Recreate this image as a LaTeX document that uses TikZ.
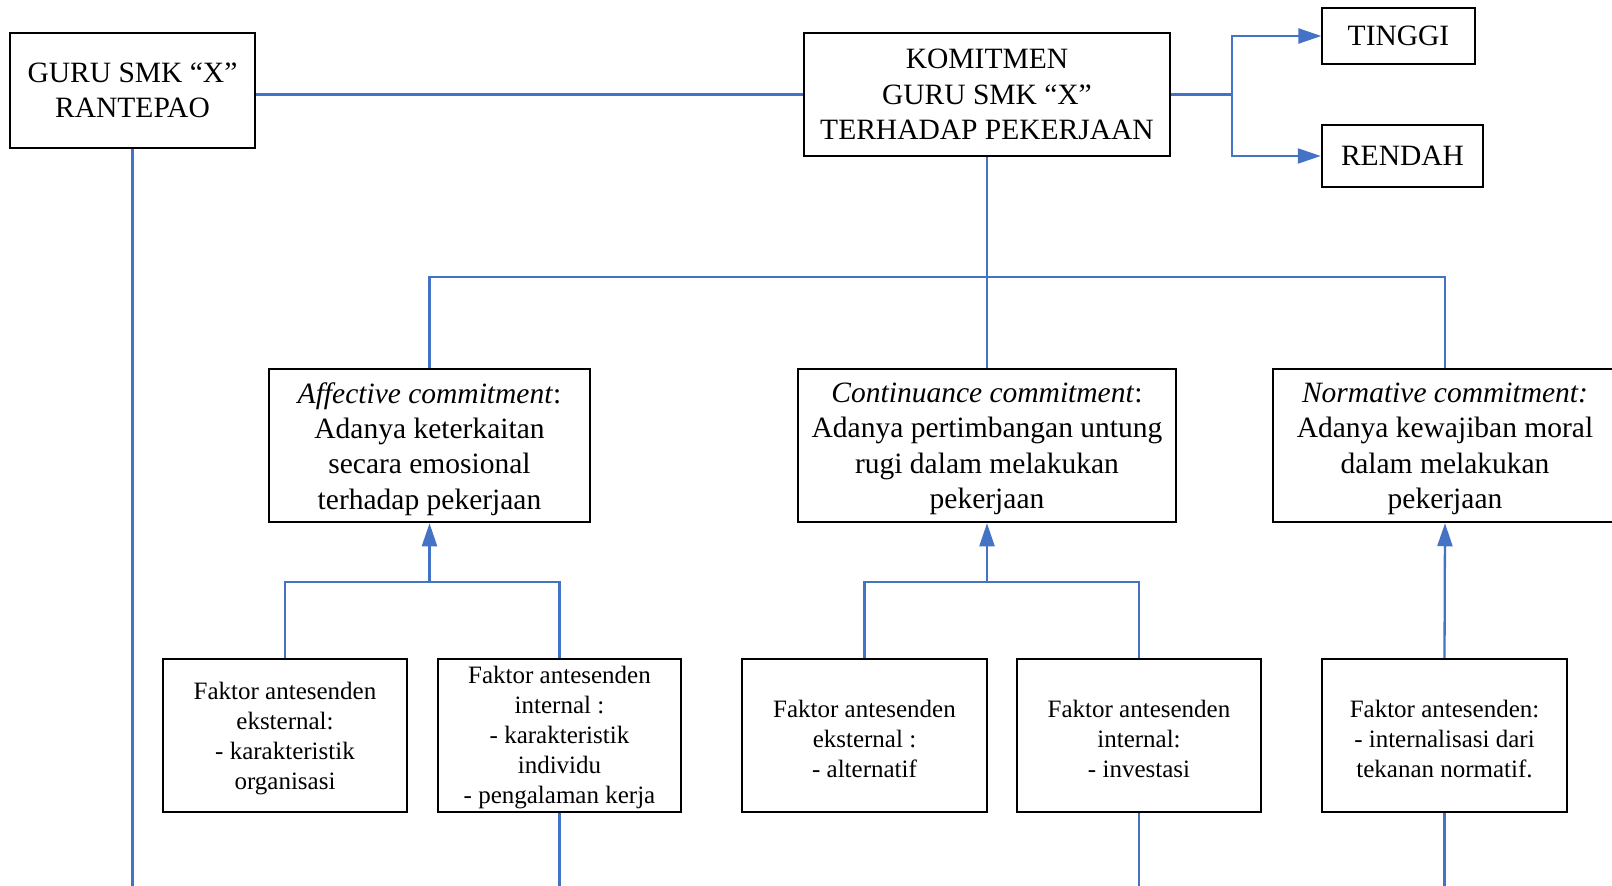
\documentclass[tikz,border=0pt]{standalone}
\usepackage{fontspec}
\setmainfont{Liberation Serif}
\usetikzlibrary{arrows.meta}
\definecolor{lineblue}{HTML}{4472C4}
\tikzset{
  sz/.style 2 args={minimum width=#1pt, minimum height=#2pt},
  box/.style={draw=black, line width=2.5pt, inner sep=0pt, align=center, font=\fontsize{29.5}{35.5}\selectfont},
  thinbox/.style={box, line width=1.3pt},
  midtext/.style={inner sep=0pt, align=center, font=\fontsize{29.5}{35.3}\selectfont},
  smalltext/.style={inner sep=0pt, align=center, font=\fontsize{25}{30}\selectfont},
  conn/.style={draw=lineblue, line width=2.3pt, line join=miter},
  arr/.style={conn, -{Triangle[length=23pt,width=15pt]}},
}
\begin{document}
\begin{tikzpicture}[x=1pt,y=-1pt]
\useasboundingbox (0,0) rectangle (1612,886);
\clip (0,0) rectangle (1612,886);
\fill[white] (0,0) rectangle (1612,886);
% top row
\node[thinbox, sz={245}{115}] (guru) at (132.5,90.5) {GURU SMK “X”\\RANTEPAO};
\node[box, sz={366}{123}] (kom) at (987,94.5) {KOMITMEN\\GURU SMK “X”\\TERHADAP PEKERJAAN};
\node[thinbox, sz={153}{56}] (tinggi) at (1398.5,36) {TINGGI};
\node[box, sz={161}{62}] (rendah) at (1402.5,156) {RENDAH};
% middle row
\node[box, sz={321}{153}] (aff) at (429.5,445.5) {};
\node[box, sz={378}{153}] (con) at (987,445.5) {};
\node[box, sz={344}{153}] (nor) at (1445,445.5) {};
\node[midtext] (afft) at ([yshift=-3.5pt]aff.center) {\textit{Affective commitment}:\\Adanya keterkaitan\\secara emosional\\terhadap pekerjaan};
\node[midtext] (cont) at ([yshift=-3.5pt]con.center) {\textit{Continuance commitment}:\\Adanya pertimbangan untung\\rugi dalam melakukan\\pekerjaan};
\node[midtext] (nort) at ([yshift=-3.5pt]nor.center) {\textit{Normative commitment:}\\Adanya kewajiban moral\\dalam melakukan\\pekerjaan};
% bottom row
\node[box, sz={244}{153}] (f1) at (285,735.5) {};
\node[box, sz={243}{153}] (f2) at (559.5,735.5) {};
\node[box, sz={245}{153}] (f3) at (864.5,735.5) {};
\node[box, sz={244}{153}] (f4) at (1139,735.5) {};
\node[box, sz={245}{153}] (f5) at (1444.5,735.5) {};
\node[smalltext] (f1t) at ([yshift=-3.5pt]f1.center) {Faktor antesenden\\eksternal:\\- karakteristik\\organisasi};
\node[smalltext] (f2t) at ([yshift=-2.5pt]f2.center) {Faktor antesenden\\internal :\\- karakteristik\\individu\\- pengalaman kerja};
\node[smalltext] (f3t) at ([yshift=-3.5pt]f3.center) {Faktor antesenden\\eksternal :\\- alternatif};
\node[smalltext] (f4t) at ([yshift=-3.5pt]f4.center) {Faktor antesenden\\internal:\\- investasi};
\node[smalltext] (f5t) at ([yshift=-3.5pt]f5.center) {Faktor antesenden:\\- internalisasi dari\\tekanan normatif.};
% coordinates
\coordinate (br) at (1232,94.5);
\coordinate (hb) at (987,277);
\coordinate (ja) at (429.5,582);
\coordinate (jc) at (987,582);
\coordinate (bot) at (0,900);
% connectors
\draw[conn] (guru.east |- kom.west) -- (kom.west);
\draw[conn] (guru.south) -- (guru.south |- bot);
\draw[conn] (kom.east) -- (br);
\draw[arr] (br) |- (tinggi.west);
\draw[arr] (br) |- (rendah.west);
\draw[conn] (kom.south) -- (con.north);
\draw[conn] (aff.north) |- (hb) -| (nor.north);
\draw[conn] (f1.north) |- (ja) -| (f2.north);
\draw[arr] (ja) -- (aff.south);
\draw[conn] (f3.north) |- (jc) -| (f4.north);
\draw[arr] (jc) -- (con.south);
\draw[arr] (f5.north) -- (nor.south);
\draw[conn] (f2.south) -- (f2.south |- bot);
\draw[conn] (f4.south) -- (f4.south |- bot);
\draw[conn] (f5.south) -- (f5.south |- bot);
\end{tikzpicture}
\end{document}
